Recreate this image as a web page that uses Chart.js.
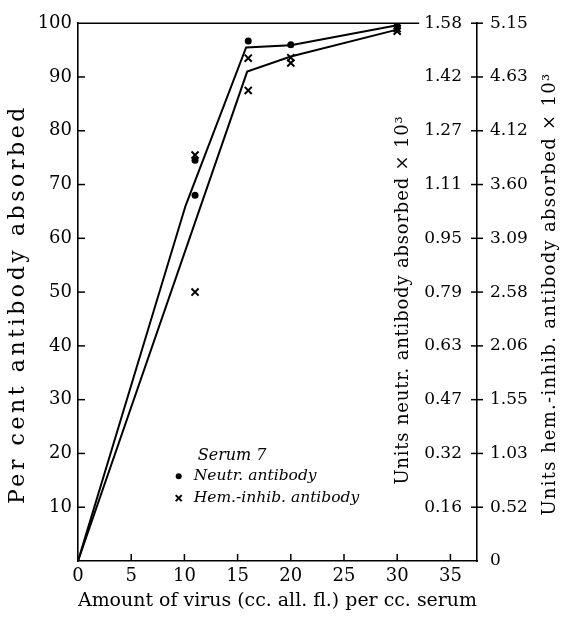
<!DOCTYPE html>
<html><head><meta charset="utf-8">
<script src="https://cdn.jsdelivr.net/npm/chart.js@4.4.0/dist/chart.umd.min.js"></script>
<style>html,body{margin:0;padding:0;background:#fff;}</style>
</head><body>
<canvas id="c" width="565" height="618"></canvas>
<script>
// ---- data ----
const neutrPtsX = [11, 11, 16, 20, 30];
const neutrPtsY = [68, 74.5, 96.7, 96, 99.4];
const hemPtsX = [11, 11, 16, 16, 20, 20, 30, 30];
const hemPtsY = [75.5, 50, 93.5, 87.5, 93.6, 92.6, 99, 98.5];
const neutrLineX = [0, 10.1, 15.8, 20, 30];
const neutrLineY = [0, 66, 95.5, 95.9, 99.6];
const hemLineX = [0, 15.9, 20, 30];
const hemLineY = [0, 91, 93.8, 98.8];
const percentTicks = [0, 10, 20, 30, 40, 50, 60, 70, 80, 90, 100];
const neutrUnitLabels = ['', '0.16', '0.32', '0.47', '0.63', '0.79', '0.95', '1.11', '1.27', '1.42', '1.58'];
const hemUnitLabels = ['0', '0.52', '1.03', '1.55', '2.06', '2.58', '3.09', '3.60', '4.12', '4.63', '5.15'];
const virusTicks = [0, 5, 10, 15, 20, 25, 30, 35];

const FF = '"DejaVu Serif", serif';
const tickFont = {family: FF, size: 18};
const rightFont = {family: FF, size: 17};
const zip = (xs, ys) => xs.map((x, i) => ({x, y: ys[i]}));
const idx = v => Math.round(v / 10);

function spacedVertical(ctx, text, cx, cy, len, font) {
  ctx.save();
  ctx.font = font;
  ctx.letterSpacing = '0px';
  const w0 = ctx.measureText(text).width;
  const sp = Math.max(0, (len - w0) / text.length);
  ctx.letterSpacing = sp + 'px';
  const w = ctx.measureText(text).width;
  ctx.translate(cx, cy);
  ctx.rotate(-Math.PI / 2);
  ctx.textAlign = 'left';
  ctx.textBaseline = 'middle';
  ctx.fillText(text, -w / 2, 0);
  ctx.restore();
}

const deco = {
  id: 'deco',
  afterDraw(chart) {
    const ctx = chart.ctx;
    const {left, right, top, bottom} = chart.chartArea;
    const xs = chart.scales.x, ys = chart.scales.y;
    const line = (a, b, c, d) => { ctx.beginPath(); ctx.moveTo(a, b); ctx.lineTo(c, d); ctx.stroke(); };
    ctx.save();
    ctx.strokeStyle = '#000'; ctx.fillStyle = '#000'; ctx.lineWidth = 1.5;
    percentTicks.forEach(v => {
      const py = ys.getPixelForValue(v);
      if (v > 0 && v < 100) line(left, py, left + 7, py);
      if (v > 0) line(right - 6, py, right + 6, py);
    });
    virusTicks.forEach(v => {
      if (v > 0) { const px = xs.getPixelForValue(v); line(px, bottom, px, bottom - 7); }
    });
    ctx.font = '17px ' + FF;
    const w = ctx.measureText(neutrUnitLabels[10]).width;
    line(left, top, right - 15 - w - 5, top);
    // axis titles
    const mid = (top + bottom) / 2;
    spacedVertical(ctx, 'Per cent antibody absorbed', left - 60, mid + 12, 400, '22px ' + FF);
    spacedVertical(ctx, 'Units neutr. antibody absorbed × 10³', right - 74, mid + 8, 369, '18px ' + FF);
    spacedVertical(ctx, 'Units hem.-inhib. antibody absorbed × 10³', right + 73, mid + 2, 443, '18px ' + FF);
    // legend
    const lx = left + 0.29 * (right - left), ly = top + 0.805 * (bottom - top);
    ctx.textAlign = 'left'; ctx.textBaseline = 'middle';
    ctx.font = 'italic 16px ' + FF;
    ctx.fillText('Serum 7', lx + 4, ly);
    ctx.font = 'italic 15.5px ' + FF;
    ctx.fillText('Neutr. antibody', lx, ly + 20);
    ctx.fillText('Hem.-inhib. antibody', lx, ly + 42);
    ctx.beginPath(); ctx.arc(lx - 15, ly + 20, 3, 0, Math.PI * 2); ctx.fill();
    ctx.lineWidth = 2;
    line(lx - 18, ly + 39, lx - 12, ly + 45); line(lx - 18, ly + 45, lx - 12, ly + 39);
    ctx.restore();
  }
};

new Chart(document.getElementById('c'), {
  type: 'scatter',
  data: {
    datasets: [
      {type: 'line', label: 'Neutr. antibody fit', data: zip(neutrLineX, neutrLineY), borderColor: '#000', borderWidth: 2, pointRadius: 0, fill: false, tension: 0},
      {type: 'line', label: 'Hem.-inhib. antibody fit', data: zip(hemLineX, hemLineY), borderColor: '#000', borderWidth: 2, pointRadius: 0, fill: false, tension: 0},
      {label: 'Neutr. antibody', data: zip(neutrPtsX, neutrPtsY), pointStyle: 'circle', pointRadius: 3.5, backgroundColor: '#000', borderColor: '#000', borderWidth: 0},
      {label: 'Hem.-inhib. antibody', data: zip(hemPtsX, hemPtsY), pointStyle: 'crossRot', pointRadius: 5, borderColor: '#000', borderWidth: 2}
    ]
  },
  options: {
    responsive: false, animation: false,
    layout: {padding: {top: 17, left: 0, right: 0, bottom: 0}},
    plugins: {legend: {display: false}, tooltip: {enabled: false}},
    scales: {
      x: {
        type: 'linear', position: 'bottom', min: 0, max: 37.5,
        afterFit(s) { s.height = 57; },
        ticks: {stepSize: 5, includeBounds: false, padding: 5, font: tickFont, color: '#000', maxRotation: 0, autoSkip: false},
        grid: {display: false, drawTicks: false},
        border: {display: true, color: '#000', width: 1.6},
        title: {display: true, text: 'Amount of virus (cc. all. fl.) per cc. serum', font: {family: FF, size: 19}, color: '#000', padding: {top: 0, bottom: 6}}
      },
      y: {
        type: 'linear', position: 'left', min: 0, max: 100,
        afterFit(s) { s.width = 78; },
        ticks: {stepSize: 10, padding: 6, font: tickFont, color: '#000', callback: v => v === 0 ? '' : String(v)},
        grid: {display: false, drawTicks: false},
        border: {display: true, color: '#000', width: 1.6}
      },
      yN: {
        type: 'linear', position: 'right', min: 0, max: 100,
        afterFit(s) { s.width = 0; },
        ticks: {stepSize: 10, mirror: true, padding: -15, font: rightFont, color: '#000', callback: v => neutrUnitLabels[idx(v)]},
        grid: {display: false, drawTicks: false},
        border: {display: false}
      },
      yH: {
        type: 'linear', position: 'right', min: 0, max: 100,
        afterFit(s) { s.width = 88; },
        ticks: {stepSize: 10, padding: 13, font: rightFont, color: '#000', callback: v => hemUnitLabels[idx(v)]},
        grid: {display: false, drawTicks: false},
        border: {display: true, color: '#000', width: 1.6}
      }
    }
  },
  plugins: [deco]
});
</script>
</body></html>
